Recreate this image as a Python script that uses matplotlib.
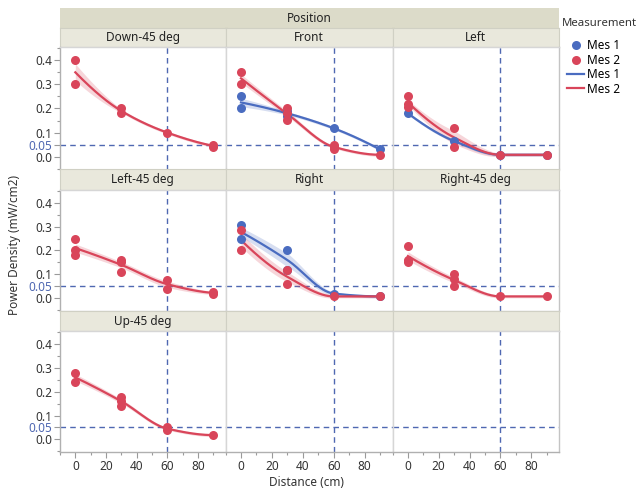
import matplotlib
matplotlib.use('Agg')
import matplotlib.pyplot as plt
from matplotlib.lines import Line2D
from matplotlib.ticker import MultipleLocator
import numpy as np

plt.rcParams['font.family'] = ['Noto Sans', 'DejaVu Sans']

# panel titles in grid order (row by row), None = empty panel
positions = ['Down-45 deg', 'Front', 'Left',
             'Left-45 deg', 'Right', 'Right-45 deg',
             'Up-45 deg', None, None]

# measurements: (distance cm, power density mW/cm2)
mes1 = {
    'Front': ([0, 0, 30, 30, 60, 90], [0.25, 0.20, 0.19, 0.17, 0.118, 0.03]),
    'Left': ([0, 30, 60, 90], [0.18, 0.065, 0.008, 0.008]),
    'Right': ([0, 0, 30, 30, 60, 90], [0.305, 0.25, 0.20, 0.12, 0.02, 0.008]),
}
mes2 = {
    'Down-45 deg': ([0, 0, 30, 30, 60, 90, 90], [0.40, 0.30, 0.20, 0.18, 0.10, 0.05, 0.04]),
    'Front': ([0, 0, 30, 30, 30, 60, 60, 60, 90], [0.35, 0.30, 0.20, 0.18, 0.153, 0.05, 0.04, 0.032, 0.008]),
    'Left': ([0, 0, 0, 30, 30, 60, 90], [0.25, 0.22, 0.205, 0.12, 0.04, 0.008, 0.008]),
    'Left-45 deg': ([0, 0, 0, 30, 30, 30, 60, 60, 90, 90], [0.25, 0.20, 0.18, 0.16, 0.15, 0.11, 0.078, 0.04, 0.025, 0.02]),
    'Right': ([0, 0, 30, 30, 60, 90], [0.284, 0.203, 0.12, 0.06, 0.008, 0.008]),
    'Right-45 deg': ([0, 0, 0, 30, 30, 30, 60, 90], [0.22, 0.16, 0.15, 0.10, 0.08, 0.05, 0.008, 0.008]),
    'Up-45 deg': ([0, 0, 30, 30, 30, 60, 60, 90], [0.28, 0.24, 0.18, 0.16, 0.14, 0.05, 0.04, 0.018]),
}

ref_x = 60
ref_y = 0.05

blue = '#4a6cc0'
red = '#d9455a'
ref_col = '#4f68b2'
strip_col = '#e9e8dc'
band_col = '#dcdbc9'
edge_col = '#d6d6d6'
txt_col = '#333333'

W, H = 639, 488
fig = plt.figure(figsize=(W / 100, H / 100), dpi=100)


def rect(x0, y0, x1, y1):
    return [x0 / W, 1 - y1 / H, (x1 - x0) / W, (y1 - y0) / H]


cols = [(60, 225.5), (225.5, 392.5), (392.5, 559)]
rows = [(47, 169.5), (189.5, 311), (331, 452)]
strips = [(28, 47), (169.5, 189.5), (311, 331)]


def pchip(xk, yk, xx):
    # monotone piecewise cubic through the level means
    h = np.diff(xk)
    d = np.diff(yk) / h
    n = len(xk)
    m = np.zeros(n)
    for k in range(1, n - 1):
        if d[k - 1] * d[k] > 0:
            w1 = 2 * h[k] + h[k - 1]
            w2 = h[k] + 2 * h[k - 1]
            m[k] = (w1 + w2) / (w1 / d[k - 1] + w2 / d[k])
    for k, (h0, h1, d0, d1) in [(0, (h[0], h[1], d[0], d[1])),
                                (n - 1, (h[-1], h[-2], d[-1], d[-2]))]:
        v = ((2 * h0 + h1) * d0 - h0 * d1) / (h0 + h1)
        if np.sign(v) != np.sign(d0):
            v = 0
        elif np.sign(d0) != np.sign(d1) and abs(v) > abs(3 * d0):
            v = 3 * d0
        m[k] = v
    i = np.clip(np.searchsorted(xk, xx) - 1, 0, n - 2)
    t = (xx - xk[i]) / h[i]
    h00 = 2 * t**3 - 3 * t**2 + 1
    h10 = t**3 - 2 * t**2 + t
    h01 = -2 * t**3 + 3 * t**2
    h11 = t**3 - t**2
    return h00 * yk[i] + h10 * h[i] * m[i] + h01 * yk[i + 1] + h11 * h[i] * m[i + 1]


def smooth(ax, xs, ys, color):
    xs = np.array(xs, float)
    ys = np.array(ys, float)
    lv = np.unique(xs)
    means = np.array([ys[xs == v].mean() for v in lv])
    xx = np.linspace(lv.min(), lv.max(), 200)
    yy = pchip(lv, means, xx)
    se = np.array([ys[xs == v].std() / np.sqrt((xs == v).sum()) for v in lv])
    se = np.maximum(se, 0.006)
    band = np.interp(xx, lv, se)
    ax.fill_between(xx, yy - band, yy + band, color=color, alpha=0.22, lw=0, zorder=2)
    ax.plot(xx, yy, color=color, lw=1.6, zorder=3)


# top "Position" band
bax = fig.add_axes(rect(60, 8, 559, 28))
bax.set_facecolor(band_col)
bax.set_xticks([]); bax.set_yticks([])
for s in bax.spines.values():
    s.set_visible(False)
bax.text(0.5, 0.5, 'Position', ha='center', va='center', fontsize=8.5,
         fontweight='bold', color='#222222', transform=bax.transAxes)

for i, name in enumerate(positions):
    r, c = divmod(i, 3)
    x0, x1 = cols[c]
    # strip
    sax = fig.add_axes(rect(x0, strips[r][0], x1, strips[r][1]))
    sax.set_facecolor(strip_col)
    sax.set_xticks([]); sax.set_yticks([])
    for s in sax.spines.values():
        s.set_color('#d0d0c4')
        s.set_linewidth(0.8)
    if name:
        sax.text(0.5, 0.5, name, ha='center', va='center', fontsize=8.5,
                 color='#222222', transform=sax.transAxes)

    ax = fig.add_axes(rect(x0, rows[r][0], x1, rows[r][1]))
    ax.set_xlim(-10, 98)
    ax.set_ylim(-0.053, 0.455)
    for s in ax.spines.values():
        s.set_color(edge_col)
        s.set_linewidth(1.0)
    if c == 2:
        ax.spines['right'].set_color('#c4c4c4')
    ax.axvline(ref_x, color=ref_col, lw=1, ls=(0, (4, 3)), zorder=1)
    ax.axhline(ref_y, color=ref_col, lw=1, ls=(0, (4, 3)), zorder=1)

    ax.xaxis.set_major_locator(MultipleLocator(20))
    ax.xaxis.set_minor_locator(MultipleLocator(10))
    ax.set_yticks([0.0, 0.05, 0.1, 0.2, 0.3, 0.4])
    ax.yaxis.set_minor_locator(MultipleLocator(0.05))
    ax.tick_params(which='both', colors='#9a9a9a', labelcolor=txt_col, labelsize=8.5,
                   direction='out', length=4, width=0.8)
    ax.tick_params(which='minor', length=2.5)
    if c == 0:
        ax.set_yticklabels(['0.0', '0.05', '0.1', '0.2', '0.3', '0.4'])
        ax.get_yticklabels()[1].set_color(ref_col)
        ax.spines['left'].set_color('#b0b0b0')
        ax.tick_params(axis='y', pad=1.5)
    else:
        ax.tick_params(axis='y', which='both', left=False, labelleft=False)
    if r == 2:
        ax.spines['bottom'].set_color('#b0b0b0')
        ax.tick_params(axis='x', pad=2)
    else:
        ax.tick_params(axis='x', which='both', bottom=False, labelbottom=False)

    if name is None:
        continue
    if name in mes1:
        xs, ys = mes1[name]
        smooth(ax, xs, ys, blue)
        ax.plot(xs, ys, 'o', color=blue, ms=6.5, mec='none', zorder=4)
    if name in mes2:
        xs, ys = mes2[name]
        smooth(ax, xs, ys, red)
        ax.plot(xs, ys, 'o', color=red, ms=6.5, mec='none', zorder=5)

fig.text(15 / W, 1 - 245 / H, 'Power Density (mW/cm2)', rotation=90, ha='center',
         va='center', fontsize=8.5, color=txt_col)
fig.text(306 / W, 1 - 483 / H, 'Distance (cm)', ha='center', va='center',
         fontsize=8.5, color=txt_col)

fig.text(562 / W, 1 - 23 / H, 'Measurement', ha='left', va='center',
         fontsize=8.2, color=txt_col)
handles = [
    Line2D([], [], ls='none', marker='o', color=blue, ms=6.5, mec='none', label='Mes 1'),
    Line2D([], [], ls='none', marker='o', color=red, ms=6.5, mec='none', label='Mes 2'),
    Line2D([], [], color=blue, lw=1.6, label='Mes 1'),
    Line2D([], [], color=red, lw=1.6, label='Mes 2'),
]
fig.legend(handles=handles, loc='upper left',
           bbox_to_anchor=(559 / W, 1 - 31 / H), frameon=False, fontsize=8.5,
           handlelength=1.4, handletextpad=0.3, labelspacing=0.12, borderpad=0.2)

fig.savefig('out.png', dpi=100)
